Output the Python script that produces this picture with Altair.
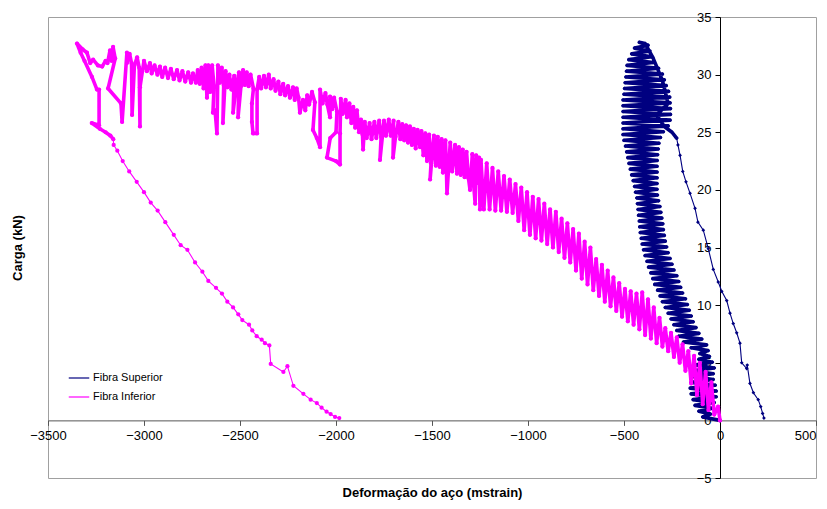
import altair as alt
import pandas as pd

# ---------------- data ----------------
series_names = ["Fibra Superior", "Fibra Inferior"]
series_colors = ["#000080", "#FF00FF"]

x_ticks = [-3500, -3000, -2500, -2000, -1500, -1000, -500, 0, 500]
y_ticks = [-5, 0, 5, 10, 15, 20, 25, 30, 35]

# Fibra Superior (navy): strain (mstrain), load (kN)
sup_x = [0,
    -90, -50, -110, -40, -130, -30, -140, -20, -150, -20, -155, -25, -150, -35, -145, -35,
    -140, -30, -130, -40, -110, -55, -105, -62, -150, -70, -190, -95, -215, -110, -225, -125,
    -240, -140, -255, -150, -270, -160, -285, -170, -300, -180, -312, -195, -325, -205,
    -340, -215, -350, -225, -360, -240, -372, -250, -380, -260, -390, -270, -398, -278,
    -405, -285, -410, -290, -415, -295, -418, -298, -420, -303, -424, -308, -427, -313,
    -430, -320, -433, -326, -440, -328, -445, -328, -452, -328, -460, -328, -467, -328,
    -474, -327, -480, -325, -486, -322, -492, -318, -500, -310, -505, -295, -505, -270,
    -505, -260, -505, -258, -505, -258, -505, -260, -505, -262, -500, -268, -497, -280,
    -494, -290, -490, -300, -487, -320, -484, -349, -475, -355, -460, -365, -445, -375,
    -420, -390,
    -350, -300, -270, -330, -290, -250, -226,
    -219, -208, -194, -177, -156, -130, -115, -87, -61, -35, -9, 9, 35, 52, 69, 87, 104,
    113, 139, 142, 156, 174, 199, 212, 222, 229]
sup_y = [0.0,
    0.3, 0.55, 0.8, 1.05, 1.3, 1.55, 1.8, 2.05, 2.3, 2.55, 2.8, 3.05, 3.3, 3.55, 3.8, 4.05,
    4.3, 4.55, 4.8, 5.05, 5.3, 5.55, 5.8, 6.05, 6.3, 6.55, 6.8, 7.05, 7.3, 7.55, 7.8, 8.05,
    8.3, 8.55, 8.8, 9.05, 9.3, 9.55, 9.8, 10.05, 10.3, 10.55, 10.8, 11.05, 11.3, 11.55,
    11.8, 12.05, 12.3, 12.55, 12.8, 13.05, 13.3, 13.55, 13.8, 14.05, 14.3, 14.55, 14.8, 15.05,
    15.3, 15.55, 15.8, 16.05, 16.3, 16.55, 16.8, 17.05, 17.3, 17.55, 17.8, 18.05, 18.3, 18.55,
    18.8, 19.05, 19.3, 19.55, 19.8, 20.05, 20.3, 20.55, 20.8, 21.05, 21.3, 21.55, 21.8, 22.05,
    22.3, 22.55, 22.8, 23.05, 23.3, 23.55, 23.8, 24.05, 24.3, 24.55, 24.8, 25.05, 25.3, 25.55,
    25.8, 26.05, 26.3, 26.55, 26.8, 27.05, 27.3, 27.55, 27.8, 28.05, 28.3, 28.55, 28.8, 29.05,
    29.3, 29.55, 29.8, 30.05, 30.3, 30.55, 30.8, 31.05, 31.3, 31.55, 31.8, 32.05, 32.3, 32.55,
    32.8, 32.7,
    31.5, 29.5, 27.5, 26.5, 25.5, 25.0, 24.5,
    23.9, 23.0, 21.6, 20.7, 19.7, 18.4, 17.2, 16.5, 14.9, 13.1, 12.0, 11.2, 10.4, 9.3, 8.4, 7.6, 6.7,
    5.0, 4.5, 4.8, 3.2, 2.4, 1.8, 1.2, 0.6, 0.2]
sup_unload_x = -226   # first point of the final unloading branch

# Fibra Inferior (magenta): strain (mstrain), load (kN)
inf_x = [0, -10, -30, -45, -60, -75, -90, -105, -120, -135, -150, -165, -180, -195,
    -210, -225, -240, -255, -270, -285, -300, -315, -330, -345, -360, -375, -390, -405,
    -420, -435, -450, -465, -480, -495, -510, -525, -540, -555, -570, -585, -600, -615,
    -630, -645, -660, -675, -690, -705, -720, -735, -750, -765, -780, -795, -810, -825,
    -840, -855, -870, -885, -900, -915, -930, -945, -960, -975, -990, -1005, -1020, -1035,
    -1050, -1065, -1080, -1095, -1110, -1125, -1140, -1155, -1170, -1185, -1200, -1215,
    -1230, -1245, -1250, -1255,
    -1260, -1270, -1275, -1285, -1290, -1302, -1310, -1320, -1330, -1340, -1350, -1360,
    -1370, -1380, -1395, -1405, -1422, -1425, -1430, -1443, -1450, -1460, -1470, -1480,
    -1490, -1510, -1505, -1515, -1526, -1535, -1545, -1555, -1562, -1575, -1585, -1595,
    -1605, -1615, -1625, -1635, -1645, -1655, -1665, -1675, -1690, -1703, -1700, -1715,
    -1725, -1740, -1750, -1771, -1765, -1775, -1790, -1800, -1815, -1825, -1840, -1850,
    -1859, -1862, -1870, -1880, -1891, -1900, -1910, -1920, -1930, -1943, -1950, -1965,
    -1975, -1979, -1979, -2000, -2047, -2030, -2000, -1995, -2010, -2020, -2031, -2031,
    -2045, -2055, -2070, -2083, -2083, -2100, -2120, -2110, -2125, -2140, -2150, -2160,
    -2172, -2188, -2195, -2205, -2215, -2224, -2240, -2250, -2265, -2275, -2290, -2300,
    -2315, -2325, -2340, -2350, -2365, -2375, -2390, -2400, -2411, -2411, -2432, -2438,
    -2438, -2430, -2445, -2455, -2465, -2475, -2484, -2495, -2510, -2505, -2520, -2536,
    -2530, -2545, -2555, -2565, -2575, -2589, -2585, -2595, -2605, -2615, -2620, -2630,
    -2641, -2635, -2645, -2655, -2665, -2672, -2680, -2690, -2700, -2710, -2720, -2730,
    -2745, -2755, -2770, -2785, -2800, -2815, -2828, -2845, -2860, -2875, -2890, -2905,
    -2917, -2930, -2945, -2960, -2969, -2985, -3000, -3021, -3021, -3025, -3036, -3050,
    -3062, -3065, -3075, -3089, -3089, -3114, -3120, -3187, -3150, -3161, -3170, -3177,
    -3190, -3200, -3218, -3240, -3265, -3280, -3297, -3320, -3349, -3330, -3310, -3271,
    -3245, -3234, -3234, -3272,
    -3230, -3200, -3175, -3160, -3158, -3139, -3111, -3077, -3038, -3000, -2965, -2929,
    -2889, -2845, -2809, -2774, -2734, -2696, -2665, -2625, -2594, -2566, -2536, -2509,
    -2488, -2453, -2436, -2413, -2387, -2370, -2347, -2340, -2274, -2253, -2222, -2170,
    -2132, -2100, -2075, -2049, -2028, -2005, -1983]
inf_y = [0.0, 1.2, 0.5, 3.3, 0.9, 4.2, 1.4, 5.0, 2.2, 5.6, 3.2, 6.0, 4.3, 6.6,
    5.0, 7.2, 5.5, 7.6, 6.0, 8.0, 6.4, 8.9, 6.7, 9.8, 7.1, 10.5, 7.4, 11.1,
    7.9, 11.0, 8.3, 11.2, 8.6, 11.4, 9.0, 11.9, 9.5, 12.4, 9.9, 13.0, 10.3, 13.5,
    10.8, 14.0, 11.3, 15.0, 11.8, 15.5, 12.3, 16.2, 13.0, 16.6, 13.7, 17.1, 14.1, 17.5,
    14.6, 18.1, 15.0, 18.3, 15.3, 18.8, 15.6, 19.2, 15.8, 19.4, 16.1, 19.8, 16.5, 20.2,
    17.3, 20.5, 18.0, 20.9, 18.1, 21.2, 18.2, 21.6, 18.2, 21.9, 18.3, 22.3,
    18.3, 22.6, 18.3, 22.8,
    20.6, 23.0, 18.8, 20.8, 23.1, 20.0, 21.0, 23.3, 21.1, 23.5, 21.3, 23.7,
    21.4, 23.9, 21.6, 24.1, 19.7, 21.8, 24.3, 21.5, 24.4, 22.0, 24.6, 22.1,
    24.7, 20.9, 22.3, 24.8, 22.5, 24.9, 23.0, 25.1, 23.7, 25.2, 23.6, 25.3,
    23.9, 25.5, 24.1, 25.6, 24.3, 25.7, 24.4, 25.9, 24.6, 22.8, 26.0, 24.7,
    26.1, 24.7, 26.0, 22.6, 24.6, 26.0, 24.5, 25.9, 24.4, 25.8, 24.5, 25.9,
    23.5, 24.8, 26.1, 25.0, 26.9, 25.4, 27.2, 25.8, 27.5, 26.3, 27.8, 26.6,
    27.9, 24.9, 22.2, 22.5, 22.8, 24.5, 25.0, 26.8, 28.0, 27.0, 28.1, 26.3,
    27.4, 28.4, 27.5, 28.7, 23.7, 24.5, 25.2, 27.6, 28.5, 27.4, 28.2, 26.9,
    27.8, 26.7, 28.0, 28.8, 27.8, 28.9, 28.0, 29.0, 28.2, 29.2, 28.3, 29.4,
    28.6, 29.6, 28.8, 30.0, 28.9, 29.9, 28.8, 29.8, 28.7, 24.9, 24.9, 25.9,
    27.5, 28.8, 30.0, 29.0, 30.2, 29.1, 30.4, 29.0, 26.3, 30.2, 29.0, 26.7,
    29.9, 28.7, 30.0, 28.9, 30.3, 25.8, 29.1, 30.6, 29.3, 30.8, 24.9, 26.9,
    26.7, 29.0, 30.8, 28.5, 30.8, 28.0, 30.8, 28.8, 30.6, 29.2, 30.4, 29.3,
    30.1, 29.3, 30.2, 29.4, 30.3, 29.5, 30.4, 29.6, 30.5, 29.7, 30.6, 29.8,
    30.7, 30.0, 30.8, 30.1, 31.0, 30.3, 31.2, 28.9, 25.5, 30.6, 31.5, 30.8,
    26.5, 31.0, 31.8, 31.0, 31.9, 25.9, 27.5, 28.8, 31.4, 32.4, 31.2, 32.1,
    31.0, 31.2, 30.7, 30.8, 31.3, 31.0, 31.9, 32.2, 32.7, 31.9, 31.2, 29.8,
    28.7, 28.7, 25.6, 25.8,
    25.3, 25.0, 24.7, 24.4, 23.9, 23.4, 22.5, 21.6, 20.7, 19.8, 18.9, 18.2,
    17.2, 16.1, 15.2, 14.8, 13.7, 12.9, 12.1, 11.5, 11.0, 10.3, 9.8, 9.2,
    8.7, 8.3, 7.8, 7.3, 7.0, 6.7, 6.5, 4.9, 4.2, 4.7, 3.0, 2.3,
    1.8, 1.5, 1.1, 0.75, 0.55, 0.3, 0.2]
inf_unload_x = -3160  # first point of the final unloading branch

# ---------------- chart ----------------
FONT = "Liberation Sans"


def frame(xs, ys, name):
    return pd.DataFrame({"x": xs, "y": ys, "i": list(range(len(xs))), "serie": name})


df_sup = frame(sup_x, sup_y, series_names[0])
df_inf = frame(inf_x, inf_y, series_names[1])
k_sup = sup_x.index(sup_unload_x)
k_inf = inf_x.index(inf_unload_x)
sup_band, sup_tail = df_sup.iloc[:k_sup + 1], df_sup.iloc[k_sup:]
inf_band, inf_tail = df_inf.iloc[:k_inf + 1], df_inf.iloc[k_inf:]

W, H = 768, 461
x_dom = [x_ticks[0], x_ticks[-1]]
y_dom = [y_ticks[0], y_ticks[-1]]
zero_x = (0 - x_dom[0]) / (x_dom[1] - x_dom[0]) * W
zero_y = H - (0 - y_dom[0]) / (y_dom[1] - y_dom[0]) * H

x_enc = alt.X("x:Q", scale=alt.Scale(domain=x_dom, nice=False, zero=False),
              axis=alt.Axis(values=x_ticks, title="Deformação do aço (mstrain)",
                            offset=-(H - zero_y), grid=False, format="d",
                            domainColor="#555555", tickColor="#555555", tickSize=5,
                            labelPadding=4, labelFontSize=13, labelFont=FONT,
                            labelColor="#000000", titleFont=FONT, titleFontSize=13,
                            titleFontWeight="bold", titleColor="#000000",
                            titleX=W / 2, titleY=72,
                            titleBaseline="middle", titleAlign="center",
                            labelAlign={"expr": "datum.value == 500 ? 'right' : 'center'"},
                            labelFlush=False, labelOverlap=False))
y_enc = alt.Y("y:Q", scale=alt.Scale(domain=y_dom, nice=False, zero=False),
              axis=alt.Axis(values=y_ticks, title="Carga (kN)",
                            offset=-zero_x, grid=False, format="d",
                            domainColor="#000000", tickColor="#000000", tickSize=5,
                            labelPadding=4, labelFontSize=13, labelFont=FONT,
                            labelColor="#000000", titleFont=FONT, titleFontSize=13,
                            titleFontWeight="bold", titleColor="#000000",
                            titleX=-zero_x - 31, titleY=H / 2, titleAngle=-90,
                            titleBaseline="middle", titleAlign="center",
                            labelFlush=False, labelOverlap=False))

color_enc = alt.Color("serie:N",
                      scale=alt.Scale(domain=series_names, range=series_colors),
                      legend=alt.Legend(title=None, orient="none", legendX=20, legendY=350,
                                        symbolType="stroke", symbolSize=420,
                                        symbolStrokeWidth=1.2, labelFont=FONT,
                                        labelFontSize=11, labelColor="#000000",
                                        rowPadding=3, labelOffset=3))


def band_line(d, col):
    return alt.Chart(d).mark_line(strokeWidth=3.6, color=col, strokeJoin="round",
                                  strokeCap="round").encode(
        x=x_enc, y=y_enc, order=alt.Order("i:Q"))


def tail_line(d):
    return alt.Chart(d).mark_line(strokeWidth=1.1).encode(
        x=x_enc, y=y_enc, color=color_enc, order=alt.Order("i:Q"))


sup_pts = alt.Chart(df_sup).mark_point(filled=True, shape="diamond", size=14, opacity=1,
                                       color=series_colors[0]).encode(x=x_enc, y=y_enc)
inf_pts = alt.Chart(df_inf).mark_point(filled=True, shape="circle", size=18, opacity=1,
                                       color=series_colors[1]).encode(x=x_enc, y=y_enc)

chart = alt.layer(
    tail_line(sup_tail), band_line(sup_band, series_colors[0]), sup_pts,
    tail_line(inf_tail), band_line(inf_band, series_colors[1]), inf_pts,
).properties(
    width=W, height=H,
    autosize=alt.AutoSizeParams(type="none"),
    padding={"left": 40, "top": 9, "right": 3, "bottom": 23},
    background="#ffffff",
).configure_view(stroke="#a0a0a0", strokeWidth=1)

chart.save("out.html", embed_options={"renderer": "svg", "actions": False})
